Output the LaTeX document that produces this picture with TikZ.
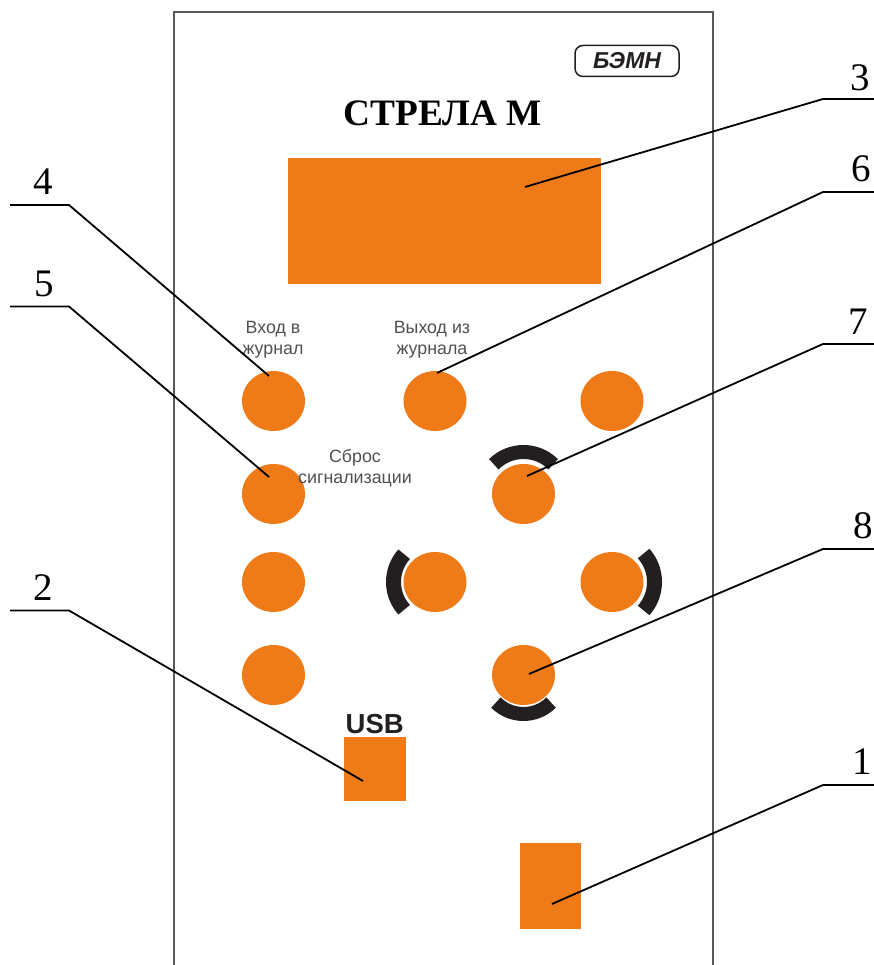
\documentclass[tikz,border=0pt]{standalone}
\usepackage{fontspec}
\setmainfont{Liberation Serif}
\setsansfont{Liberation Sans}
\usetikzlibrary{positioning,shapes.geometric}
\definecolor{keyorange}{HTML}{EF7B18}
\definecolor{keydark}{HTML}{231F20}
\definecolor{captiongray}{HTML}{505050}

\begin{document}
\begin{tikzpicture}[x=1pt, y=1pt,
roundkey/.style={ellipse, fill=keyorange, inner sep=0pt, minimum width=63pt, minimum height=60pt},
squaredkey/.style={rectangle, fill=keyorange, inner sep=0pt},
caption/.style={font=\sffamily\fontsize{17.8}{21}\selectfont, text=captiongray, align=center, inner sep=0pt},
digit/.style={font=\fontsize{39}{39}\selectfont, inner sep=0pt},
leader/.style={draw=black, line width=1.8pt},
keyarc/.style={draw=keydark, line width=14pt},
]
\useasboundingbox (0,0) rectangle (874,965);

%Panel
\draw[draw=black!65, line width=1.2pt] (174,0) -- (174,953) -- (713,953) -- (713,0);

%Nodes
\node[draw=keydark, line width=1.5pt, rounded corners=8pt, minimum width=104pt, minimum height=31pt, inner sep=0pt, font=\sffamily\bfseries\itshape\fontsize{23}{23}\selectfont, text=keydark] (brand) at (627,904) {БЭМН};
\node[font=\bfseries\fontsize{37.3}{37.3}\selectfont, inner sep=0pt] (title) at (443,852) {СТРЕЛА М};
\node[squaredkey, minimum width=313pt, minimum height=126pt] (display) at (444.5,744) {};

\node[roundkey] (k1) at (273.5,564) {};
\node[roundkey] (k2) at (435,564) {};
\node[roundkey] (k3) at (612,564) {};
\node[roundkey] (k4) at (273.5,471) {};
\node[roundkey] (up) at (523.5,471) {};
\node[roundkey] (k5) at (273.5,383) {};
\node[roundkey] (left) at (435,383) {};
\node[roundkey] (right) at (612,383) {};
\node[roundkey] (k6) at (273.5,290) {};
\node[roundkey] (down) at (523.5,290) {};

\node[caption] (enter) at (273,625) {Вход в\\журнал};
\node[caption] (leave) at (432,625) {Выход из\\журнала};
\node[caption] (reset) at (355,497) {Сброс\\сигнализации};

\node[squaredkey, minimum width=62pt, minimum height=64pt] (usb) at (374.7,196) {};
\node[font=\sffamily\bfseries\fontsize{27.5}{27.5}\selectfont, text=keydark, inner sep=0pt, above=3pt of usb] (usbtext) {USB};
\node[squaredkey, minimum width=61pt, minimum height=86pt] (port) at (550.3,79) {};

\node[digit] (n1) at (862,203) {1};
\node[digit] (n2) at (43,377) {2};
\node[digit] (n3) at (860,887) {3};
\node[digit] (n4) at (43,783.5) {4};
\node[digit] (n5) at (44,681) {5};
\node[digit] (n6) at (861,796) {6};
\node[digit] (n7) at (858,643.5) {7};
\node[digit] (n8) at (863,439) {8};

%Arcs
\draw[keyarc] ([shift={(45:42)}]up.center) arc[start angle=45, end angle=135, radius=42];
\draw[keyarc, line width=15pt] ([shift={(138:41.5)}]left.center) arc[start angle=138, end angle=222, radius=41.5];
\draw[keyarc, line width=15pt] ([shift={(-42:42.5)}]right.center) arc[start angle=-42, end angle=42, radius=42.5];
\draw[keyarc] ([shift={(225:39)}]down.center) arc[start angle=225, end angle=315, radius=39];

%Leader points
\coordinate (a1) at (874,180); \coordinate (b1) at (823,180); \coordinate (t1) at (552,61);
\coordinate (a2) at (10,354.5); \coordinate (b2) at (69,354.5); \coordinate (t2) at (363,184);
\coordinate (a3) at (874,866); \coordinate (b3) at (823,866); \coordinate (t3) at (525,778);
\coordinate (a4) at (10,760); \coordinate (b4) at (69,760); \coordinate (t4) at (269,589);
\coordinate (a5) at (10,658.5); \coordinate (b5) at (69,658.5); \coordinate (t5) at (269,488);
\coordinate (a6) at (874,773); \coordinate (b6) at (823,773); \coordinate (t6) at (437,592);
\coordinate (a7) at (874,621); \coordinate (b7) at (823,621); \coordinate (t7) at (527,489);
\coordinate (a8) at (874,416); \coordinate (b8) at (823,416); \coordinate (t8) at (529,291);

%Lines
\draw[leader] (a1) -- (b1) -- (t1);
\draw[leader] (a2) -- (b2) -- (t2);
\draw[leader] (a3) -- (b3) -- (t3);
\draw[leader] (a4) -- (b4) -- (t4);
\draw[leader] (a5) -- (b5) -- (t5);
\draw[leader] (a6) -- (b6) -- (t6);
\draw[leader] (a7) -- (b7) -- (t7);
\draw[leader] (a8) -- (b8) -- (t8);

\end{tikzpicture}
\end{document}
